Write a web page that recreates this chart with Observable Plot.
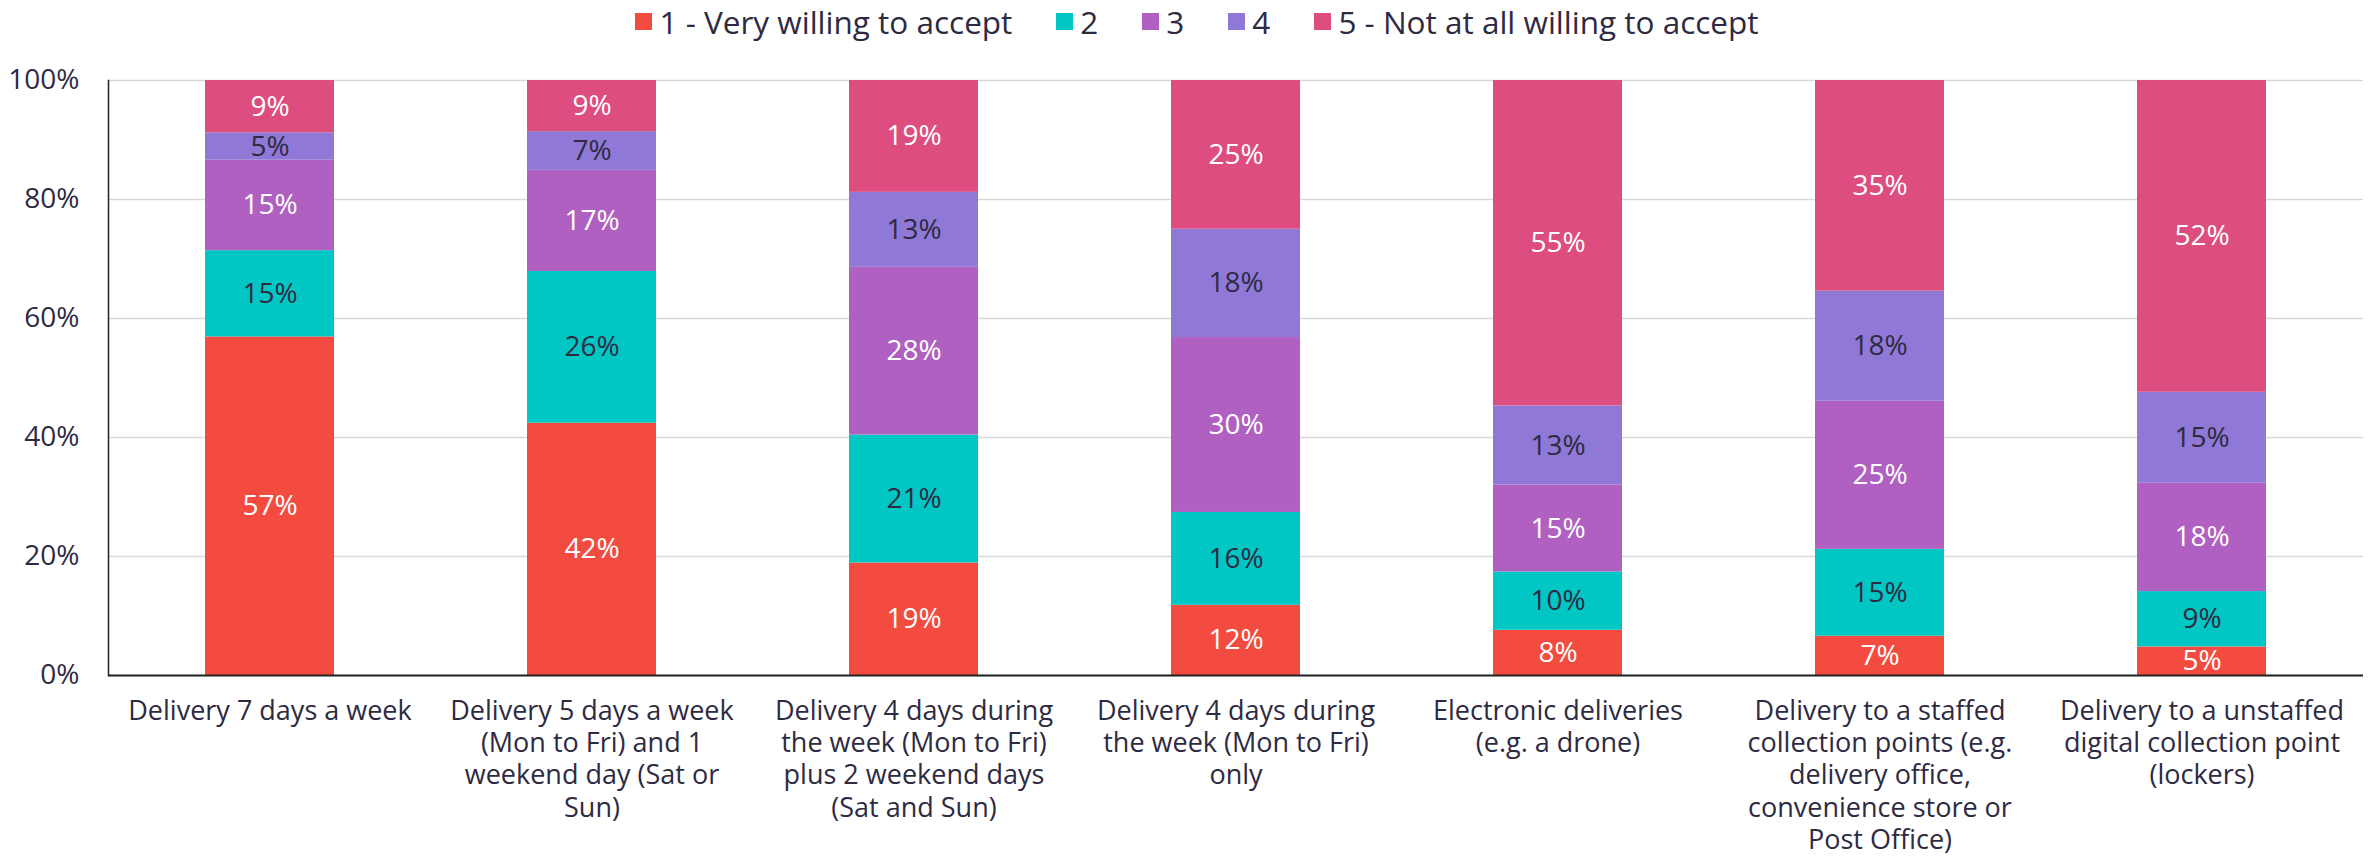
<!DOCTYPE html>
<html>
<head>
<meta charset="utf-8">
<script src="https://cdn.jsdelivr.net/npm/d3@7"></script>
<script src="https://cdn.jsdelivr.net/npm/@observablehq/plot@0.6"></script>
<style>
  html, body { margin: 0; padding: 0; background: #fff; }
  body { width: 2374px; height: 862px; overflow: hidden; font-family: "Open Sans", "Noto Sans", sans-serif; color: #2d2a42; }
  #legend { height: 42px; display: flex; justify-content: center; align-items: center; font-size: 31.5px; padding-left: 20px; box-sizing: border-box; }
  .item { display: flex; align-items: center; margin: 0 22px; }
  .sw { width: 17px; height: 17px; margin-right: 7px; }
</style>
</head>
<body>
<div id="legend"></div>
<div id="chart"></div>
<script>
const categories = [
  "Delivery 7 days a week",
  "Delivery 5 days a week (Mon to Fri) and 1 weekend day (Sat or Sun)",
  "Delivery 4 days during the week (Mon to Fri) plus 2 weekend days (Sat and Sun)",
  "Delivery 4 days during the week (Mon to Fri) only",
  "Electronic deliveries (e.g. a drone)",
  "Delivery to a staffed collection points (e.g. delivery office, convenience store or Post Office)",
  "Delivery to a unstaffed digital collection point (lockers)"
];
const tickLabels = [
  "Delivery 7 days a week",
  "Delivery 5 days a week\n(Mon to Fri) and 1\nweekend day (Sat or\nSun)",
  "Delivery 4 days during\nthe week (Mon to Fri)\nplus 2 weekend days\n(Sat and Sun)",
  "Delivery 4 days during\nthe week (Mon to Fri)\nonly",
  "Electronic deliveries\n(e.g. a drone)",
  "Delivery to a staffed\ncollection points (e.g.\ndelivery office,\nconvenience store or\nPost Office)",
  "Delivery to a unstaffed\ndigital collection point\n(lockers)"
];
const series = ["1 - Very willing to accept", "2", "3", "4", "5 - Not at all willing to accept"];
const colors = ["#f44b40", "#00c7c3", "#af60c1", "#9079d6", "#dd4d80"];
const labelColors = ["#ffffff", "#2d2a42", "#ffffff", "#2d2a42", "#ffffff"];

const values1 = [56.9, 42.4, 18.9, 11.8, 7.6, 6.6, 4.8];
const values2 = [14.5, 25.5, 21.5, 15.6, 9.8, 14.6, 9.3];
const values3 = [15.2, 17.0, 28.2, 29.4, 14.6, 24.9, 18.2];
const values4 = [4.6, 6.5, 12.6, 18.2, 13.3, 18.5, 15.3];
const values5 = [8.8, 8.6, 18.8, 25.0, 54.7, 35.4, 52.4];

const labels1 = [57, 42, 19, 12, 8, 7, 5];
const labels2 = [15, 26, 21, 16, 10, 15, 9];
const labels3 = [15, 17, 28, 30, 15, 25, 18];
const labels4 = [5, 7, 13, 18, 13, 18, 15];
const labels5 = [9, 9, 19, 25, 55, 35, 52];

const yTicks = [0, 20, 40, 60, 80, 100];

const allValues = [values1, values2, values3, values4, values5];
const allLabels = [labels1, labels2, labels3, labels4, labels5];
const data = [];
series.forEach((s, si) => {
  categories.forEach((c, ci) => {
    data.push({category: c, series: s, si, value: allValues[si][ci], label: allLabels[si][ci] + "%"});
  });
});

// legend
const legend = document.getElementById("legend");
series.forEach((s, i) => {
  const it = document.createElement("div");
  it.className = "item";
  const sw = document.createElement("div");
  sw.className = "sw";
  sw.style.background = colors[i];
  const t = document.createElement("span");
  t.textContent = s;
  it.appendChild(sw); it.appendChild(t);
  legend.appendChild(it);
});

const stackOpts = {x: "category", y: "value", z: "series", order: series};
const fontSize = 28;

const plot = Plot.plot({
  width: 2374,
  height: 820,
  marginTop: 38,
  marginBottom: 187,
  marginLeft: 108,
  marginRight: 11,
  style: {fontFamily: "'Open Sans', 'Noto Sans', sans-serif", fontSize: fontSize + "px", color: "#2d2a42", background: "#fff"},
  x: {domain: categories, paddingInner: 0.6, paddingOuter: 0.3, label: null},
  y: {domain: [0, 100], label: null},
  color: {domain: series, range: colors},
  marks: [
    Plot.gridY(yTicks, {stroke: "#d9d9d9", strokeOpacity: 1, strokeWidth: 1.5}),
    Plot.barY(data, Plot.stackY({...stackOpts, fill: "series"})),
    Plot.text(data, Plot.stackY({...stackOpts, text: d => labelColors[d.si] === "#ffffff" ? d.label : null, fill: "#ffffff", fontSize})),
    Plot.text(data, Plot.stackY({...stackOpts, text: d => labelColors[d.si] !== "#ffffff" ? d.label : null, fill: "#2d2a42", fontSize})),
    Plot.axisY({ticks: yTicks, tickFormat: d => d + "%", tickSize: 0, tickPadding: 29, fontSize, label: null}),
    Plot.axisX({tickSize: 0, tickPadding: 21, fontSize: 27, lineHeight: 1.2, tickFormat: d => tickLabels[categories.indexOf(d)], label: null}),
    Plot.frame({anchor: "left", stroke: "#222", strokeWidth: 1.5}),
    Plot.ruleY([0], {stroke: "#222", strokeWidth: 2})
  ]
});
document.getElementById("chart").appendChild(plot);
</script>
</body>
</html>
